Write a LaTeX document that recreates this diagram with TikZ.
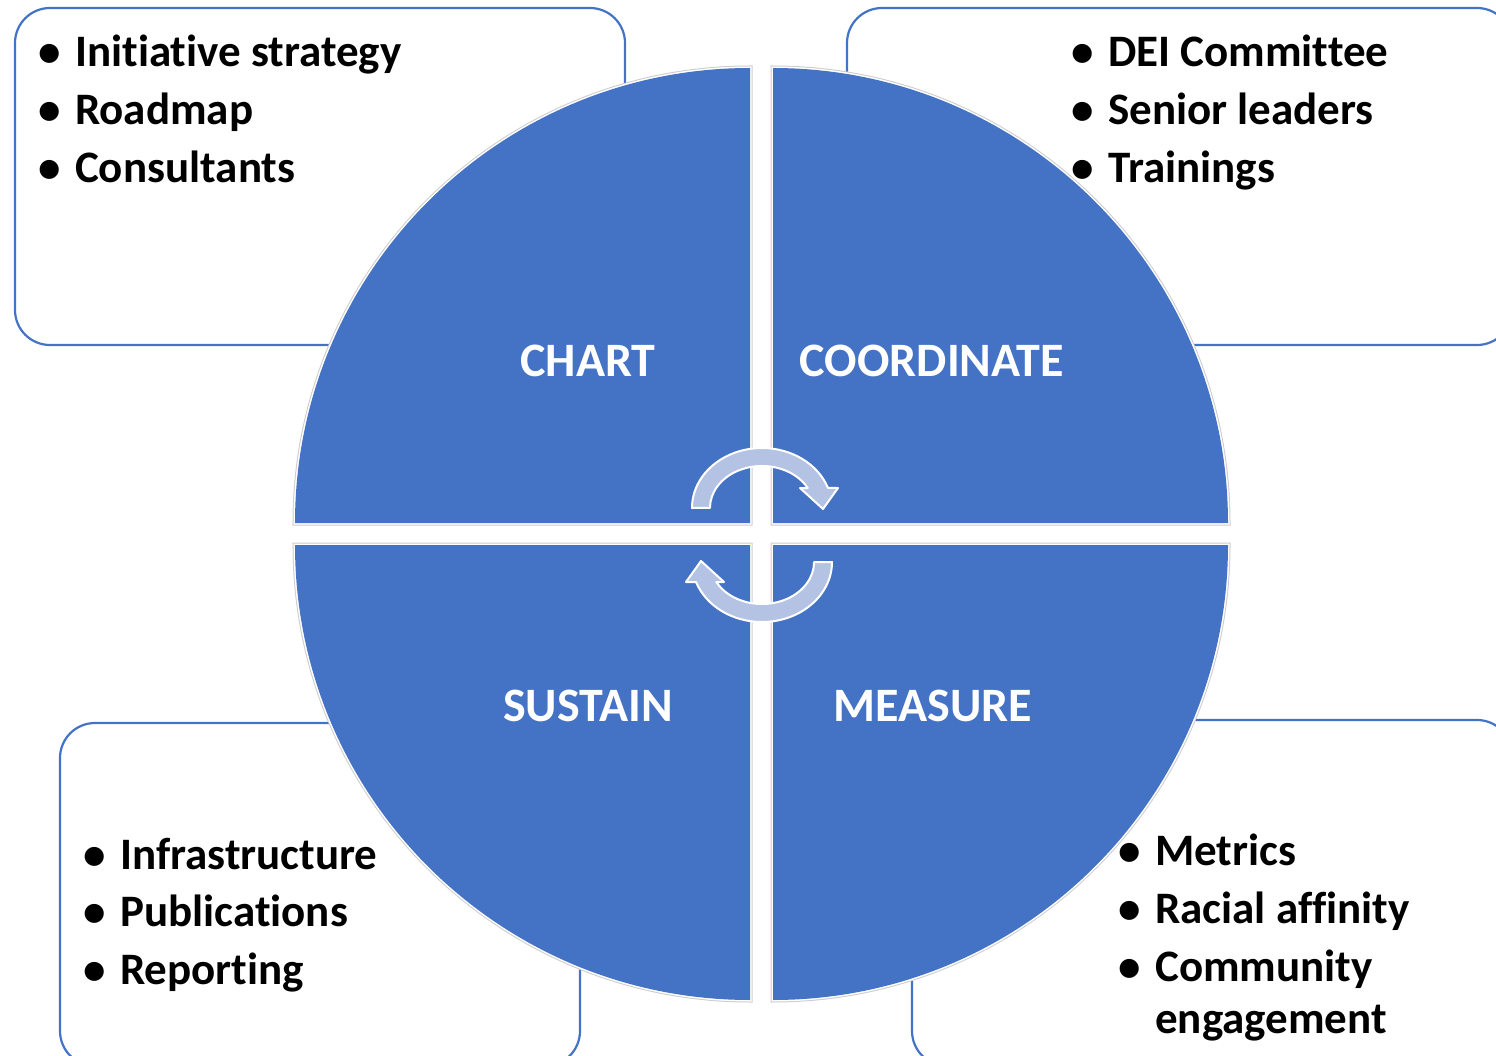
\documentclass[tikz,border=0pt]{standalone}
\usepackage{fontspec}
\setmainfont{Carlito}[Ligatures={NoCommon}]
\definecolor{qblue}{HTML}{4472C4}
\definecolor{arrowc}{HTML}{B4C3E3}
\newcommand\itembul{\makebox[37pt][l]{\textbullet}}
\begin{document}
\begin{tikzpicture}[x=1pt,y=-1pt,
  box/.style={draw=qblue, line width=2.2pt, rounded corners=35pt},
  quadfill/.style={fill=qblue},
  quadedge/.style={draw=black!20, line width=5pt},
  quadgap/.style={draw=white, line width=3pt},
  lbl/.style={text=white, font=\fontsize{48}{52}\selectfont\bfseries, inner sep=0pt, anchor=base},
  item/.style={font=\fontsize{45}{52}\selectfont\bfseries, inner sep=0pt, anchor=base west},
  cyc/.style={fill=arrowc, draw=white, line width=2pt, line join=round}
]
\useasboundingbox (0,0) rectangle (1496,1056);
% side boxes
\draw[box] (15,8) rectangle (625,345);
\draw[box] (847,8) rectangle (1512,345);
\draw[box] (60,723) rectangle (580,1066);
\draw[box] (912,720) rectangle (1512,1066);
% quadrants
\foreach \cx/\cy/\a in {750/523/180, 773/523/270, 773/545/0, 750/545/90}{
  \draw[quadedge] (\cx,\cy) -- ++(\a:455) arc[start angle=\a, end angle=\a+90, radius=455] -- cycle;
  \draw[quadgap] (\cx,\cy) -- ++(\a:455) arc[start angle=\a, end angle=\a+90, radius=455] -- cycle;
  \fill[quadfill] (\cx,\cy) -- ++(\a:455) arc[start angle=\a, end angle=\a+90, radius=455] -- cycle;
}
% quadrant labels
\node[lbl] (chart) at (588,377) {CHART};
\node[lbl] (coord) at (932,377) {COORDINATE};
\node[lbl] (sustain) at (588,721) {SUSTAIN};
\node[lbl] (measure) at (933,721) {MEASURE};
% circular arrows
\path[cyc] (692,508) arc[start angle=180, end angle=340.5, x radius=70, y radius=60]
  -- (838,488) -- (823,509) -- (800,488) -- (807.7,488)
  arc[start angle=331.6, end angle=180, x radius=52, y radius=42] -- cycle;
\path[cyc, rotate around={180:(762,535)}] (692,508) arc[start angle=180, end angle=340.5, x radius=70, y radius=60]
  -- (838,488) -- (823,509) -- (800,488) -- (807.7,488)
  arc[start angle=331.6, end angle=180, x radius=52, y radius=42] -- cycle;
% bullet lists
\node[item] (tl1) at (38,67) {\itembul Initiative strategy};
\node[item] (tl2) at (38,125) {\itembul Roadmap};
\node[item] (tl3) at (38,183) {\itembul Consultants};
\node[item] (tr1) at (1071,67) {\itembul DEI Committee};
\node[item] (tr2) at (1071,125) {\itembul Senior leaders};
\node[item] (tr3) at (1071,183) {\itembul Trainings};
\node[item] (bl1) at (83,869) {\itembul Infrastructure};
\node[item] (bl2) at (83,926) {\itembul Publications};
\node[item] (bl3) at (83,984) {\itembul Reporting};
\node[item] (br1) at (1118,865) {\itembul Metrics};
\node[item] (br2) at (1118,923) {\itembul Racial affinity};
\node[item] (br3) at (1118,981) {\itembul Community};
\node[item] (br4) at (1118,1033) {\makebox[37pt][l]{}engagement};
\end{tikzpicture}
\end{document}
